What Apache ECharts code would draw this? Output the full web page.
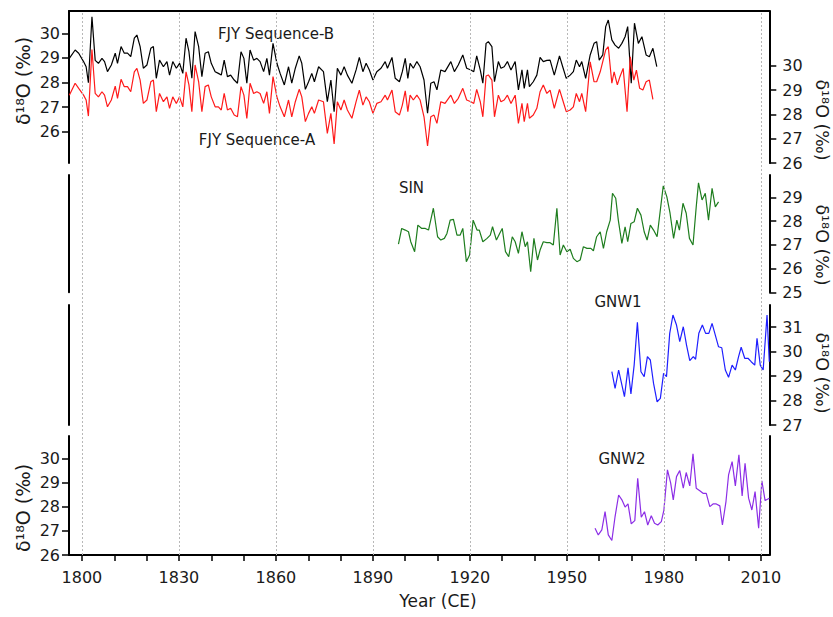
<!DOCTYPE html>
<html><head><meta charset="utf-8">
<script src="https://cdn.jsdelivr.net/npm/echarts@6/dist/echarts.min.js"></script>
<style>html,body{margin:0;padding:0;background:#fff}#c{width:833px;height:617px}</style>
</head><body><div id="c"></div>
<script>
// ---------------- DATA ----------------
const xMajorTicks = [1800, 1830, 1860, 1890, 1920, 1950, 1980, 2010];
const xMinorTicks = [1800, 1810, 1820, 1830, 1840, 1850, 1860, 1870, 1880, 1890, 1900, 1910, 1920, 1930, 1940, 1950, 1960, 1970, 1980, 1990, 2000, 2010];
const fjyTicks = [26, 27, 28, 29, 30];
const sinTicks = [25, 26, 27, 28, 29];
const gnw1Ticks = [27, 28, 29, 30, 31];
const gnw2Ticks = [26, 27, 28, 29, 30];

const seriesNames = ['FJY Sequence-B', 'FJY Sequence-A', 'SIN', 'GNW1', 'GNW2'];
const xTitle = 'Year (CE)';
const yTitle = 'δ¹⁸O (‰)';

const fjyB = [
[1796.1,28.98],[1797.9,29.32],[1799.0,29.19],[1800.5,28.85],[1801.3,28.64],[1802.0,27.99],[1803.1,30.67],[1804.1,28.90],
[1805.1,28.78],[1806.2,28.98],[1807.0,28.85],[1807.9,28.44],[1809.1,28.71],[1810.3,29.19],[1811.0,28.78],[1812.1,29.46],
[1813.1,29.19],[1814.1,29.19],[1815.1,29.05],[1816.2,29.80],[1817.0,29.93],[1818.0,29.46],[1819.0,28.58],[1820.1,28.71],
[1821.3,29.39],[1822.1,29.46],[1823.0,28.17],[1824.0,28.91],[1825.2,28.64],[1826.3,28.85],[1827.1,28.30],[1828.1,28.85],
[1829.2,28.58],[1830.2,28.78],[1831.2,28.37],[1832.2,29.80],[1833.1,29.25],[1834.0,28.17],[1835.0,30.07],[1836.1,29.46],
[1837.1,28.24],[1838.1,29.19],[1839.1,29.25],[1840.0,28.78],[1841.2,28.44],[1842.2,28.37],[1843.1,28.30],[1844.0,28.91],
[1845.0,28.24],[1846.0,28.30],[1847.1,28.10],[1848.1,27.97],[1849.2,29.25],[1850.1,28.98],[1851.0,27.97],[1852.0,29.32],
[1853.1,28.91],[1854.1,28.98],[1855.1,28.85],[1856.2,28.44],[1857.2,28.98],[1858.0,28.30],[1859.1,29.59],[1860.3,28.78],
[1861.3,28.37],[1862.6,27.90],[1863.9,28.64],[1864.9,27.97],[1866.0,28.58],[1867.2,29.08],[1868.0,28.78],[1869.1,27.72],
[1870.1,28.03],[1871.1,28.37],[1871.9,28.03],[1873.2,28.64],[1874.7,28.44],[1875.9,27.22],[1877.0,28.10],[1878.0,26.81],
[1879.0,28.58],[1880.1,28.30],[1881.1,28.64],[1882.1,28.30],[1883.5,27.97],[1884.8,28.51],[1885.8,29.02],[1886.9,28.44],
[1887.9,28.78],[1888.9,28.51],[1890.0,28.10],[1891.2,28.44],[1892.5,28.58],[1893.8,28.85],[1894.5,28.58],[1895.9,29.02],
[1896.9,28.17],[1898.2,28.03],[1899.1,28.44],[1900.0,28.98],[1900.8,28.17],[1901.5,28.78],[1902.5,28.58],[1903.6,28.85],
[1904.6,28.64],[1905.8,28.10],[1906.9,26.75],[1907.9,27.97],[1908.9,28.03],[1909.8,27.70],[1911.0,28.51],[1912.3,28.44],
[1914.1,28.85],[1915.2,28.44],[1916.4,28.71],[1917.8,29.12],[1919.0,28.58],[1920.3,28.51],[1921.2,28.44],[1922.1,29.08],
[1923.2,28.51],[1924.0,27.97],[1925.0,29.59],[1925.7,29.66],[1926.8,29.46],[1927.6,28.03],[1928.8,28.85],[1929.6,28.58],
[1930.6,28.64],[1931.6,28.85],[1932.7,28.51],[1934.0,28.85],[1935.0,27.70],[1936.1,28.51],[1936.8,27.76],[1937.8,28.51],
[1938.4,27.83],[1939.6,28.03],[1940.7,28.30],[1941.7,29.02],[1942.7,28.85],[1943.8,28.90],[1944.8,28.91],[1946.1,28.30],
[1947.7,29.08],[1948.7,28.64],[1949.8,28.17],[1951.0,28.30],[1952.0,28.44],[1952.9,28.91],[1953.9,28.64],[1954.6,28.85],
[1955.8,28.17],[1957.2,29.12],[1958.4,29.59],[1959.2,29.66],[1960.0,28.91],[1961.1,29.12],[1962.0,30.27],[1962.8,30.54],
[1963.9,29.73],[1964.9,29.52],[1966.0,29.39],[1967.0,29.59],[1968.0,29.86],[1968.8,30.27],[1969.9,27.97],[1970.9,30.41],
[1972.1,29.59],[1973.2,29.86],[1974.5,29.12],[1975.5,29.05],[1976.6,29.39],[1977.8,28.64]
];

const fjyA = [
[1796.1,28.79],[1797.9,29.28],[1799.0,29.07],[1800.5,28.79],[1801.3,28.59],[1802.0,27.93],[1803.1,30.67],[1804.1,28.86],
[1805.1,28.72],[1806.2,28.93],[1807.0,28.79],[1807.9,28.31],[1809.1,28.59],[1810.3,29.16],[1811.0,28.66],[1812.1,29.44],
[1813.1,29.14],[1814.1,29.14],[1815.1,28.93],[1816.2,29.75],[1817.0,29.89],[1818.0,29.41],[1819.0,28.45],[1820.1,28.59],
[1821.3,29.34],[1822.1,29.41],[1823.0,28.11],[1824.0,28.86],[1825.2,28.52],[1826.3,28.72],[1827.1,28.25],[1828.1,28.72],
[1829.2,28.45],[1830.2,28.72],[1831.2,28.31],[1832.2,29.75],[1833.1,29.21],[1834.0,28.11],[1835.0,30.03],[1836.1,29.34],
[1837.1,28.11],[1838.1,29.14],[1839.1,29.21],[1840.0,28.72],[1841.2,28.31],[1842.2,28.31],[1843.1,28.18],[1844.0,28.86],
[1845.0,28.18],[1846.0,28.25],[1847.1,27.97],[1848.1,27.90],[1849.2,29.14],[1850.1,28.79],[1851.0,27.83],[1852.0,29.28],
[1853.1,28.86],[1854.1,28.93],[1855.1,28.86],[1856.2,28.45],[1857.2,28.93],[1858.0,28.04],[1859.1,29.55],[1860.3,28.72],
[1861.3,28.31],[1862.6,27.90],[1863.9,28.59],[1864.9,27.90],[1866.0,28.52],[1867.2,29.03],[1868.0,28.72],[1869.1,27.70],
[1870.1,28.04],[1871.1,28.31],[1871.9,28.04],[1873.2,28.59],[1874.7,28.52],[1875.9,27.22],[1877.0,28.04],[1878.0,26.78],
[1879.0,28.52],[1880.1,28.18],[1881.1,28.59],[1882.1,28.18],[1883.5,27.84],[1884.8,28.52],[1885.8,29.00],[1886.9,28.38],
[1887.9,28.72],[1888.9,28.52],[1890.0,28.04],[1891.2,28.45],[1892.5,28.52],[1893.8,28.79],[1894.5,28.59],[1895.9,29.00],
[1896.9,28.11],[1898.2,27.97],[1899.1,28.38],[1900.0,28.97],[1900.8,28.11],[1901.5,28.79],[1902.5,28.59],[1903.6,28.79],
[1904.6,28.59],[1905.8,27.90],[1906.9,26.70],[1907.9,27.90],[1908.9,27.97],[1909.8,27.63],[1911.0,28.52],[1912.3,28.45],
[1914.1,28.79],[1915.2,28.45],[1916.4,28.66],[1917.8,29.07],[1919.0,28.59],[1920.3,28.52],[1921.2,28.45],[1922.1,29.03],
[1923.2,28.52],[1924.0,27.90],[1925.0,29.58],[1925.7,29.62],[1926.8,29.41],[1927.6,27.90],[1928.8,28.79],[1929.6,28.52],
[1930.6,28.59],[1931.6,28.79],[1932.7,28.45],[1934.0,28.79],[1935.0,27.63],[1936.1,28.45],[1936.8,27.70],[1937.8,28.45],
[1938.4,27.84],[1939.6,27.97],[1940.7,28.25],[1941.7,28.93],[1942.7,29.21],[1943.8,28.86],[1944.8,29.00],[1946.1,28.25],
[1947.7,29.03],[1948.7,28.59],[1949.8,28.11],[1951.0,28.18],[1952.0,28.31],[1952.9,28.86],[1953.9,28.52],[1954.6,28.86],
[1955.8,28.11],[1957.2,30.16],[1958.4,29.34],[1959.2,29.34],[1960.3,29.75],[1962.0,30.65],[1962.8,30.78],[1963.9,29.28],
[1964.6,29.75],[1965.6,29.21],[1966.4,29.55],[1967.4,29.89],[1968.6,28.11],[1969.6,30.37],[1970.7,29.41],[1971.5,29.82],
[1972.5,29.07],[1973.5,29.00],[1974.5,29.34],[1975.5,29.41],[1976.6,28.62]
];

const sin = [
[1897.9,27.03],[1898.9,27.69],[1900.0,27.62],[1901.0,27.55],[1901.7,27.13],[1902.9,26.71],[1903.9,27.83],[1905.1,27.69],
[1906.2,27.69],[1907.2,27.62],[1908.7,28.54],[1910.0,27.34],[1911.0,27.20],[1912.1,27.27],[1912.9,27.48],[1913.9,28.04],
[1914.9,28.07],[1916.0,27.41],[1917.0,27.41],[1917.8,27.69],[1918.9,26.29],[1919.9,26.57],[1921.0,28.04],[1922.2,27.62],
[1922.9,27.62],[1924.0,27.13],[1925.3,27.27],[1926.3,27.41],[1927.0,27.76],[1928.2,27.20],[1929.2,27.48],[1930.0,27.69],
[1931.0,26.71],[1932.0,26.50],[1933.1,27.34],[1934.0,27.13],[1935.0,26.64],[1936.1,27.55],[1937.1,26.92],[1937.8,27.13],
[1938.8,25.87],[1939.8,27.27],[1940.9,26.36],[1941.7,26.78],[1942.7,27.13],[1943.8,27.09],[1944.8,27.09],[1945.8,26.99],
[1946.9,28.54],[1947.9,26.57],[1948.9,26.99],[1950.0,26.71],[1951.0,26.81],[1952.0,26.43],[1953.1,26.29],[1954.1,26.36],
[1955.1,26.92],[1956.2,26.85],[1957.4,26.85],[1958.2,26.75],[1959.2,27.34],[1960.3,27.55],[1961.3,26.85],[1962.3,27.55],
[1963.4,28.04],[1964.1,29.17],[1965.1,28.96],[1965.9,28.04],[1967.0,27.06],[1968.0,27.76],[1968.8,27.13],[1969.8,27.90],
[1970.8,27.97],[1971.8,28.54],[1972.9,28.25],[1973.9,27.55],[1974.8,27.20],[1975.8,27.83],[1976.8,27.62],[1977.9,27.34],
[1979.8,29.48],[1980.9,29.03],[1981.9,28.33],[1983.0,27.27],[1984.0,28.04],[1984.8,27.62],[1985.9,28.75],[1986.9,28.33],
[1987.9,27.27],[1989.0,26.99],[1990.0,28.60],[1990.7,29.61],[1991.8,28.89],[1992.8,29.17],[1993.8,28.04],[1994.9,29.38],
[1995.9,28.60],[1996.9,28.81]
];

const gnw1 = [
[1963.9,29.18],[1964.9,28.50],[1966.0,29.25],[1967.0,28.64],[1967.8,28.16],[1968.9,29.34],[1969.8,28.27],[1970.8,29.45],
[1971.8,31.20],[1972.9,29.18],[1973.9,28.98],[1974.9,29.80],[1975.8,29.66],[1976.8,28.70],[1977.9,27.95],[1978.9,28.09],
[1979.9,29.11],[1980.8,28.98],[1981.8,30.75],[1982.8,31.50],[1983.9,31.09],[1984.9,30.41],[1986.0,31.02],[1987.0,30.27],
[1988.0,29.63],[1989.1,29.80],[1989.8,29.69],[1990.8,30.75],[1991.9,31.09],[1992.9,30.75],[1993.9,30.75],[1994.9,31.16],
[1995.9,30.68],[1996.9,30.20],[1997.9,30.16],[1999.0,29.25],[2000.0,28.95],[2001.1,29.45],[2002.1,29.25],[2003.1,29.80],
[2003.9,30.18],[2005.0,29.73],[2006.0,29.73],[2007.0,29.59],[2008.1,29.45],[2008.8,30.55],[2009.8,29.45],[2010.7,29.25],
[2011.9,31.50],[2012.6,29.59]
];

const gnw2 = [
[1958.7,27.11],[1959.7,26.83],[1960.8,27.04],[1961.8,27.79],[1962.8,26.83],[1963.9,26.60],[1964.9,27.59],[1966.0,28.48],
[1967.0,28.28],[1968.0,27.98],[1968.9,28.11],[1969.9,27.29],[1971.0,27.42],[1971.9,29.17],[1973.0,27.56],[1974.0,27.79],
[1975.0,27.24],[1976.1,27.62],[1977.1,27.31],[1978.1,27.24],[1979.2,27.38],[1980.0,27.86],[1981.1,29.52],[1982.1,28.97],
[1982.9,28.28],[1983.9,29.24],[1984.9,29.49],[1986.0,28.76],[1986.9,29.41],[1988.0,28.86],[1989.0,30.18],[1990.0,28.76],
[1991.1,28.66],[1992.1,28.55],[1993.1,28.55],[1994.2,28.00],[1995.2,28.11],[1996.2,28.11],[1997.3,28.03],[1998.1,27.24],
[1999.2,28.21],[2000.0,29.31],[2001.1,29.86],[2002.1,28.86],[2003.2,30.14],[2004.2,28.44],[2005.1,29.79],[2006.2,28.35],
[2007.2,27.86],[2008.2,28.62],[2009.3,27.11],[2010.3,29.07],[2011.3,28.25],[2012.6,28.35]
];

// ---------------- CHART ----------------
const FONT = 'DejaVu Sans';
const TXT = '#1a1a1a';
const X_MIN = 1796, X_MAX = 2012.6;
const L = 69, R = 833 - 769.3;

const chart = echarts.init(document.getElementById('c'), null, {renderer: 'svg'});

function xAx(i, extra) {
  return Object.assign({type: 'value', gridIndex: i, min: X_MIN, max: X_MAX, show: false}, extra || {});
}
function yLineOnly(grid, pos, min, max) {
  return {type: 'value', gridIndex: grid, position: pos, min: min, max: max,
    axisLine: {show: true, onZero: false, lineStyle: {color: '#000', width: 2}},
    axisTick: {show: false}, axisLabel: {show: false}, splitLine: {show: false}};
}
function yTicked(grid, pos, min, max, ticks, margin) {
  return {type: 'value', gridIndex: grid, position: pos, min: min, max: max,
    axisLine: {show: true, onZero: false, lineStyle: {color: '#000', width: 2}},
    axisTick: {show: true, length: 7, customValues: ticks, lineStyle: {color: '#000', width: 1.5}},
    axisLabel: {show: true, customValues: ticks, margin: margin, fontFamily: FONT, fontSize: 16, color: TXT,
      formatter: v => String(v)},
    splitLine: {show: false}};
}
function lineSeries(name, data, xi, yi, color) {
  return {name: name, type: 'line', xAxisIndex: xi, yAxisIndex: yi, data: data,
    showSymbol: false, symbol: 'none', lineStyle: {color: color, width: 1.2}, itemStyle: {color: color},
    animation: false, silent: true, clip: true};
}
function label(text, x, y, size, rot) {
  return {type: 'text', x: x, y: y, rotation: rot || 0, silent: true,
    style: {text: text, fontFamily: FONT, fontSize: size, fill: TXT, align: 'center', verticalAlign: 'middle'}};
}

const option = {
  backgroundColor: '#fff',
  animation: false,
  grid: [
    {left: L, right: R, top: 11, bottom: 62},
    {left: L, right: R, top: 11, height: 152},
    {left: L, right: R, top: 175, height: 117.3},
    {left: L, right: R, top: 305, height: 120},
    {left: L, right: R, top: 436, height: 119}
  ],
  xAxis: [
    xAx(0, {show: true, position: 'bottom',
      axisLine: {show: true, onZero: false, lineStyle: {color: '#000', width: 2}},
      axisTick: {show: true, length: 6, customValues: xMinorTicks, lineStyle: {color: '#000', width: 1.5}},
      axisLabel: {show: true, customValues: xMajorTicks, margin: 14, fontFamily: FONT, fontSize: 16, color: TXT,
        formatter: v => String(v)},
      splitLine: {show: false}}),
    xAx(0, {show: true, position: 'top',
      axisLine: {show: true, onZero: false, lineStyle: {color: '#000', width: 2}},
      axisTick: {show: false}, axisLabel: {show: false}, splitLine: {show: false}}),
    xAx(1), xAx(2), xAx(3), xAx(4)
  ],
  yAxis: [
    {type: 'value', gridIndex: 0, min: 0, max: 1, show: false},
    yTicked(1, 'left', 24.727, 30.906, fjyTicks, 9),
    yTicked(1, 'right', 26, 32.25, fjyTicks, 13),
    yLineOnly(2, 'left', 25, 29.94),
    yTicked(2, 'right', 25, 29.94, sinTicks, 13),
    yLineOnly(3, 'left', 27, 31.91),
    yTicked(3, 'right', 27, 31.91, gnw1Ticks, 13),
    yTicked(4, 'left', 26, 30.92, gnw2Ticks, 9),
    yLineOnly(4, 'right', 26, 30.92)
  ],
  series: [
    {type: 'line', xAxisIndex: 0, yAxisIndex: 0, data: [[X_MIN, -1]], showSymbol: false, symbol: 'none',
      lineStyle: {opacity: 0}, silent: true, animation: false,
      markLine: {silent: true, symbol: ['none', 'none'], label: {show: false}, animation: false,
        lineStyle: {color: '#b8b8b8', type: [2, 2], width: 1},
        data: xMajorTicks.map(v => ({xAxis: v}))}},
    lineSeries(seriesNames[0], fjyB, 2, 1, '#000000'),
    lineSeries(seriesNames[1], fjyA, 2, 2, '#ff1a1a'),
    lineSeries(seriesNames[2], sin, 3, 4, '#1e7d1e'),
    lineSeries(seriesNames[3], gnw1, 4, 6, '#1f1fff'),
    lineSeries(seriesNames[4], gnw2, 5, 7, '#8c2ee6')
  ],
  graphic: [
    label(seriesNames[0], 276, 34, 15),
    label(seriesNames[1], 257, 140, 15),
    label(seriesNames[2], 411.5, 188, 15),
    label(seriesNames[3], 618, 302, 15),
    label(seriesNames[4], 622, 459, 15),
    label(xTitle, 438, 601, 17),
    label(yTitle, 22.5, 81, 19, Math.PI / 2),
    label(yTitle, 821.5, 120, 17.5, -Math.PI / 2),
    label(yTitle, 821.5, 245, 17.5, -Math.PI / 2),
    label(yTitle, 821.5, 373, 17.5, -Math.PI / 2),
    label(yTitle, 22.5, 508, 19, Math.PI / 2)
  ]
};
chart.setOption(option);
</script>
</body></html>
